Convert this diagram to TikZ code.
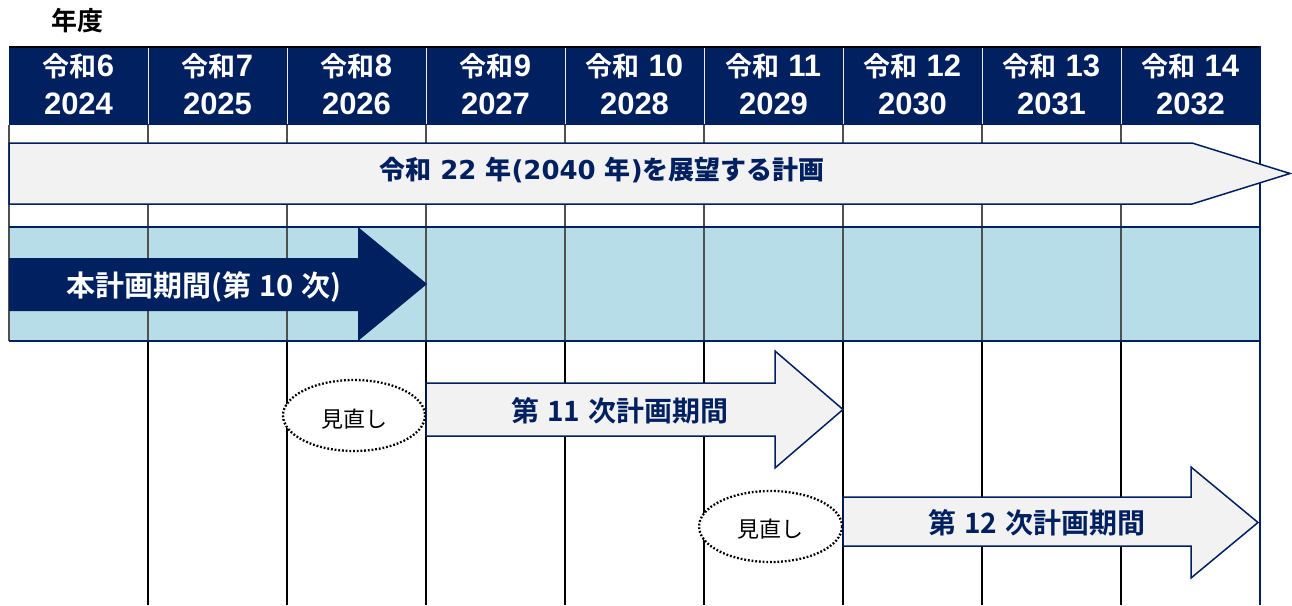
\documentclass[tikz,border=0pt]{standalone}
\usepackage{fontspec}
\setmainfont{DejaVu Sans}
\newfontfamily\jp{Noto Sans CJK JP}
\newfontfamily\jpb{Noto Sans CJK JP Bold}
\newfontfamily\arialb{Liberation Sans Bold}
\definecolor{navy}{HTML}{002060}
\definecolor{lblue}{HTML}{B7DEE8}
\definecolor{afill}{HTML}{F2F2F2}
\definecolor{gline}{HTML}{505050}
\newcommand\gap{\hspace{8pt}}
\tikzset{
  vgray/.style={gline, line width=1.5pt},
  vblack/.style={black, line width=1.5pt},
  hnavy/.style={navy, line width=2pt},
  bigarrow/.style={draw=navy, line width=1.5pt, fill=afill, line join=miter},
  darkarrow/.style={fill=navy},
  review/.style={draw=black, fill=white, line width=2.3pt, dash pattern=on 1.8pt off 1.9pt},
  hdrtop/.style={text=white, inner sep=0pt, font=\jpb\fontsize{27}{27}\selectfont},
  hdrbot/.style={text=white, inner sep=0pt, font=\arialb\fontsize{31}{31}\selectfont},
  navylabel/.style={text=navy, inner sep=0pt},
}
\begin{document}
\begin{tikzpicture}[x=1pt,y=-1pt]
\useasboundingbox (0,0) rectangle (1292,605);
% row 2 band
\fill[lblue] (9,227) rectangle (1260,341);
% vertical grid lines
\draw[vgray] (9,125) -- (9,341);
\foreach \x in {148,287,426,565,704,843,982,1121} {
  \draw[vgray] (\x,125) -- (\x,341);
  \draw[vblack] (\x,341) -- (\x,605);
}
% horizontal lines
\draw[hnavy] (9,227) -- (1260,227);
\draw[hnavy] (9,341) -- (1260,341);
% header
\fill[navy] (9,47) rectangle (1260,125);
\draw[black, line width=2pt] (9,46.5) -- (1260,46.5);
\foreach \x in {148,287,426,565,704,843,982,1121}
  \draw[white!85!gray, line width=1pt] (\x,48) -- (\x,124);
\draw[navy, line width=2pt] (1260,46) -- (1260,605);
% header texts
\foreach \i/\era/\yr in {0/6/2024,1/7/2025,2/8/2026,3/9/2027,4/{\ 10}/2028,5/{\ 11}/2029,6/{\ 12}/2030,7/{\ 13}/2031,8/{\ 14}/2032} {
  \node[hdrtop] (era\i) at ({78.5+139*\i},66) {令和{\arialb\fontsize{31}{31}\selectfont\era}};
  \node[hdrbot] (yr\i) at ({78.5+139*\i},103.5) {\yr};
}
\node[inner sep=0pt, font=\jpb\fontsize{26}{26}\selectfont] (nendo) at (77.5,21) {年度};
% long-term plan arrow
\draw[bigarrow] (9,143) -- (1192,143) -- (1290,173.5) -- (1192,204) -- (9,204) -- cycle;
\node[navylabel, font=\bfseries\fontsize{26}{26}\selectfont] (plan22) at (602,170)
  {{\jpb 令和} 22 {\jpb 年}(2040 {\jpb 年}){\jpb を展望する計画}};
% current plan arrow
\fill[darkarrow] (9,258) -- (358,258) -- (358,227) -- (427,284) -- (358,341) -- (358,311) -- (9,311) -- cycle;
\node[text=white, inner sep=0pt, font=\jpb\fontsize{29}{29}\selectfont] (plan10) at (204,287)
  {本計画期間(第\gap 10\gap 次)};
% 11th plan
\draw[bigarrow] (426,383) -- (775,383) -- (775,351) -- (843,409.5) -- (775,468) -- (775,436) -- (426,436) -- cycle;
\node[navylabel, font=\jpb\fontsize{28}{28}\selectfont] (plan11) at (620,411)
  {第\gap 11\gap 次計画期間};
% 12th plan
\draw[bigarrow] (843,497) -- (1191,497) -- (1191,467) -- (1258,522.5) -- (1191,578) -- (1191,546) -- (843,546) -- cycle;
\node[navylabel, font=\jpb\fontsize{28}{28}\selectfont] (plan12) at (1037,523)
  {第\gap 12\gap 次計画期間};
% review ellipses
\draw[review] (354,415.5) ellipse [x radius=71, y radius=35.5];
\node[inner sep=0pt, font=\jp\fontsize{22}{22}\selectfont] (rev1) at (354,419) {見直し};
\draw[review] (770.5,526.5) ellipse [x radius=71.5, y radius=35.5];
\node[inner sep=0pt, font=\jp\fontsize{22}{22}\selectfont] (rev2) at (770.5,529) {見直し};
\end{tikzpicture}
\end{document}
